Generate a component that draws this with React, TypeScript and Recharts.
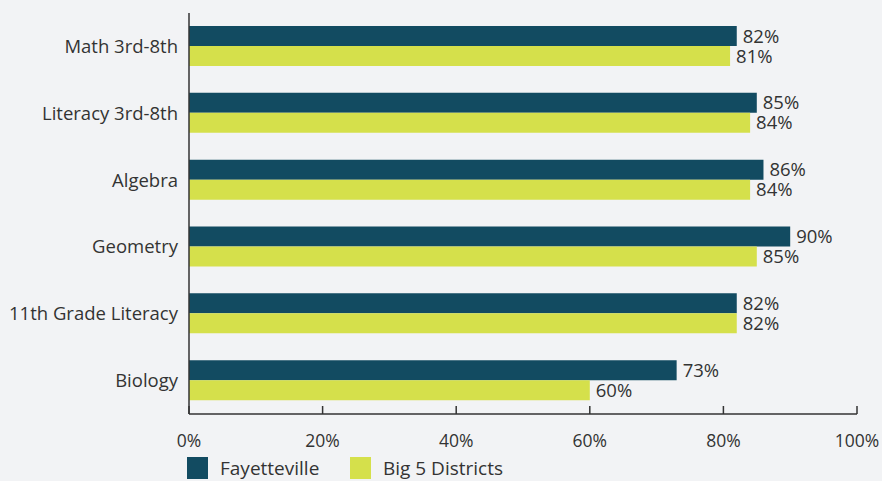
import { BarChart, Bar, XAxis, YAxis, LabelList } from 'recharts'

const subjects = ['Math 3rd-8th', 'Literacy 3rd-8th', 'Algebra', 'Geometry', '11th Grade Literacy', 'Biology']
const fayetteville = [82, 85, 86, 90, 82, 73]
const big5 = [81, 84, 84, 85, 82, 60]
const percentTicks = [0, 20, 40, 60, 80, 100]

const DARK = '#124b61'
const LIME = '#d5e04b'
const INK = '#333333'
const FONT = '"Open Sans", sans-serif'
const FS = 18.5

const data = subjects.map((s, i) => ({ subject: s, fay: fayetteville[i], big5: big5[i] }))

// bottom axis ticks point up into the plot, so draw them by hand
const TICK_SIZE = 0
const TICK_MARGIN = 26

function PercentTick(props: any) {
  const { x, y, payload } = props
  const axisY = y - TICK_SIZE - TICK_MARGIN
  return (
    <g>
      <line x1={x} x2={x} y1={axisY - 8} y2={axisY} stroke={INK} strokeWidth={1.5} />
      <text x={x} y={y} textAnchor="middle" dominantBaseline="central" fill={INK} fontSize={17.5} fontFamily={FONT}>
        {payload.value}%
      </text>
    </g>
  )
}

export default function App() {
  return (
    <div style={{ position: 'absolute', left: 0, top: 0, width: 882, height: 481, background: '#f2f3f5', fontFamily: FONT }}>
      <BarChart
        width={882}
        height={481}
        data={data}
        layout="vertical"
        margin={{ top: 13, right: 25, left: 0, bottom: 41 }}
        barGap={0}
        barCategoryGap={13}
      >
        <XAxis
          type="number"
          domain={[0, 100]}
          ticks={percentTicks}
          interval={0}
          height={26}
          tickLine={false}
          tickSize={TICK_SIZE}
          tickMargin={TICK_MARGIN}
          axisLine={{ stroke: INK, strokeWidth: 1.5 }}
          tick={<PercentTick />}
        />
        <YAxis
          type="category"
          dataKey="subject"
          width={189}
          tickLine={false}
          tickSize={0}
          tickMargin={11}
          axisLine={{ stroke: INK, strokeWidth: 1.5 }}
          tick={{ fill: INK, fontSize: FS, fontFamily: FONT }}
        />
        <Bar dataKey="fay" fill={DARK} isAnimationActive={false}>
          <LabelList dataKey="fay" position="right" offset={6} formatter={(v: any) => `${v}%`} fill={INK} fontSize={FS} fontFamily={FONT} />
        </Bar>
        <Bar dataKey="big5" fill={LIME} isAnimationActive={false}>
          <LabelList dataKey="big5" position="right" offset={6} formatter={(v: any) => `${v}%`} fill={INK} fontSize={FS} fontFamily={FONT} />
        </Bar>
      </BarChart>
      <div style={{ position: 'absolute', left: 187, top: 457, display: 'flex', alignItems: 'center', color: INK, fontSize: 19, lineHeight: '22px' }}>
        <span style={{ width: 21, height: 22, background: DARK, display: 'inline-block' }} />
        <span style={{ marginLeft: 12, width: 130 }}>Fayetteville</span>
        <span style={{ width: 21, height: 22, background: LIME, display: 'inline-block' }} />
        <span style={{ marginLeft: 12 }}>Big 5 Districts</span>
      </div>
    </div>
  )
}
